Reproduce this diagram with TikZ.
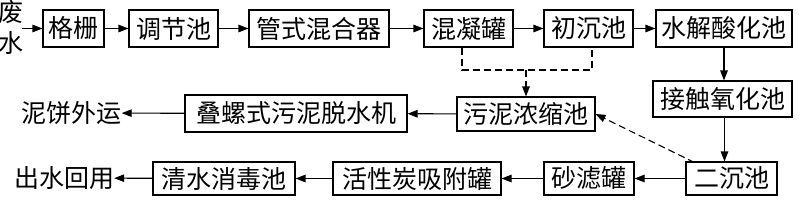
\documentclass[tikz,border=0pt]{standalone}
\usepackage{fontspec}
\newfontfamily\cjk{Noto Sans CJK SC}
\usetikzlibrary{arrows.meta}
\begin{document}
\begin{tikzpicture}[x=1pt,y=-1pt,
  every node/.style={font=\fontsize{25}{25}\selectfont\cjk},
  box/.style={draw,line width=1.1pt,inner sep=0pt,minimum height=37pt,anchor=center},
  txt/.style={inner sep=0pt},
  arr/.style={line width=1.1pt,-{Triangle[length=10pt,width=7.5pt]}},
  darr/.style={line width=1.1pt,dash pattern=on 7pt off 4pt},
]
\useasboundingbox (0,0) rectangle (800,206);
% row 1
\node[txt] (fei) at (11,12.5) {废};
\node[txt] (shui) at (11,43) {水};
\node[box,minimum width=61pt] (geshan) at (73.5,28.5) {格栅};
\node[box,minimum width=89pt] (tiaojie) at (173.5,28.5) {调节池};
\node[box,minimum width=140pt] (guanshi) at (319,28.5) {管式混合器};
\node[box,minimum width=89pt] (hunning) at (468.5,28.5) {混凝罐};
\node[box,minimum width=89pt] (chuchen) at (588.5,28.5) {初沉池};
\node[box,minimum width=136pt] (shuijie) at (724,28.5) {水解酸化池};
% row 2
\node[box,minimum width=139pt,minimum height=36pt] (jiechu) at (722.5,99) {接触氧化池};
\node[box,minimum width=138pt,minimum height=34pt] (wunong) at (526,114) {污泥浓缩池};
\node[box,minimum width=222pt,minimum height=37pt] (dieluo) at (296,113.5) {叠螺式污泥脱水机};
\node[txt] (nibing) at (71.5,113) {泥饼外运};
% row 3
\node[box,minimum width=91pt,minimum height=33pt] (erchen) at (731.5,178.5) {二沉池};
\node[box,minimum width=90pt,minimum height=33pt] (shalv) at (589,178.5) {砂滤罐};
\node[box,minimum width=168pt,minimum height=33pt] (huoxing) at (417,178.5) {活性炭吸附罐};
\node[box,minimum width=142pt,minimum height=33pt] (qingshui) at (224,178.5) {清水消毒池};
\node[txt] (chushui) at (64,178) {出水回用};
% connectors
\coordinate (fs) at (22,28.5);
\draw[arr] (fs) -- (geshan.west);
\draw[arr] (geshan) -- (tiaojie);
\draw[arr] (tiaojie) -- (guanshi);
\draw[arr] (guanshi) -- (hunning);
\draw[arr] (hunning) -- (chuchen);
\draw[arr] (chuchen) -- (shuijie);
\draw[arr] (shuijie.south) -- (shuijie.south |- jiechu.north);
\draw[arr] ([xshift=2pt]jiechu.south) -- ([xshift=2pt]jiechu.south |- erchen.north);
\draw[arr] (erchen) -- (shalv);
\draw[arr] (shalv) -- (huoxing);
\draw[arr] (huoxing) -- (qingshui);
\draw[arr] (qingshui) -- (chushui);
\draw[arr] (wunong) -- (dieluo);
\draw[arr] (dieluo) -- (nibing);
% dashed sludge lines
\coordinate (y70) at (0,70);
\coordinate (dl) at ([xshift=-6.5pt]hunning.south |- y70);
\coordinate (dr) at ([xshift=3.5pt]chuchen.south |- y70);
\coordinate (dm) at (wunong.north |- y70);
\draw[darr] ([xshift=-6.5pt]hunning.south) -- (dl) -- (dr) -- ([xshift=3.5pt]chuchen.south);
\draw[darr,-{Triangle[length=10pt,width=7.5pt]}] (dm) -- (wunong.north);
\draw[darr,-{Triangle[length=10pt,width=7.5pt]}] ([xshift=9pt,yshift=-1pt]erchen.north west) -- (wunong.east);
\end{tikzpicture}
\end{document}
